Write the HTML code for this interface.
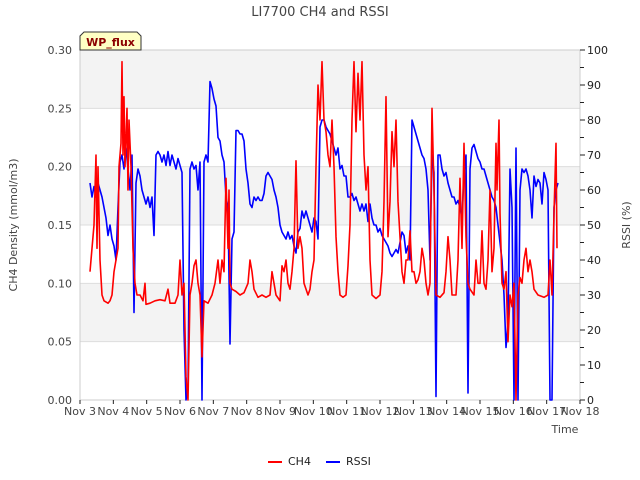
<!DOCTYPE html>
<html><head><meta charset="utf-8"><style>
body{margin:0;background:#fff}
svg{display:block;font-family:"DejaVu Sans","Liberation Sans",sans-serif}
</style></head><body>
<svg id="c" width="640" height="480" viewBox="0 0 640 480">
<text x="320" y="16" text-anchor="middle" font-size="13" fill="#444">LI7700 CH4 and RSSI</text>
<g id="bands"></g>
<g id="grid"></g>
<rect x="80" y="50" width="500" height="350" fill="none" stroke="#ccc"/>
<g id="axes"></g>
<g id="series"></g>
<text x="565" y="433" text-anchor="middle" font-size="11" fill="#444">Time</text>
<text transform="translate(17,225) rotate(-90)" text-anchor="middle" font-size="11" fill="#444">CH4 Density (mmol/m3)</text>
<text transform="translate(630,225) rotate(-90)" text-anchor="middle" font-size="11" fill="#444">RSSI (%)</text>
<g>
<path d="M80,50 L80,36 L84,32 L137,32 L141,36 L141,50 Z" fill="#ffffc4" stroke="#333"/>
<text x="110.5" y="46" text-anchor="middle" font-size="11" font-weight="bold" fill="#8b0000">WP_flux</text>
</g>
<g>
<line x1="268" y1="462" x2="282" y2="462" stroke="#f00" stroke-width="2"/>
<text x="288" y="465" font-size="11" fill="#222">CH4</text>
<line x1="326" y1="462" x2="340" y2="462" stroke="#00f" stroke-width="2"/>
<text x="346" y="465" font-size="11" fill="#222">RSSI</text>
</g>
</svg>
<script>
const xTickLabels=["Nov 3","Nov 4","Nov 5","Nov 6","Nov 7","Nov 8","Nov 9","Nov 10","Nov 11","Nov 12","Nov 13","Nov 14","Nov 15","Nov 16","Nov 17","Nov 18"];
const yTicks=[0,0.05,0.10,0.15,0.20,0.25,0.30];
const y2Ticks=[0,10,20,30,40,50,60,70,80,90,100];
const ch4Days=[0.30,0.36,0.42,0.48,0.51,0.54,0.60,0.66,0.72,0.84,0.90,0.96,1.02,1.08,1.14,1.17,1.23,1.26,1.29,1.32,1.35,1.41,1.44,1.47,1.53,1.59,1.65,1.71,1.80,1.89,1.95,1.98,2.10,2.25,2.40,2.55,2.64,2.70,2.85,2.94,3.00,3.06,3.12,3.18,3.24,3.30,3.36,3.42,3.48,3.54,3.60,3.66,3.72,3.84,3.96,4.05,4.14,4.20,4.26,4.32,4.38,4.44,4.47,4.50,4.56,4.68,4.80,4.92,5.04,5.10,5.16,5.22,5.34,5.46,5.58,5.70,5.76,5.82,5.88,6.00,6.06,6.12,6.18,6.24,6.30,6.36,6.42,6.48,6.54,6.60,6.66,6.72,6.84,6.90,6.96,7.02,7.08,7.14,7.20,7.26,7.32,7.38,7.44,7.50,7.56,7.62,7.68,7.74,7.80,7.89,7.98,8.04,8.10,8.16,8.22,8.28,8.34,8.40,8.46,8.52,8.58,8.64,8.70,8.76,8.88,9.00,9.06,9.12,9.18,9.24,9.30,9.36,9.42,9.48,9.54,9.60,9.66,9.72,9.78,9.84,9.90,9.96,10.02,10.08,10.14,10.20,10.26,10.32,10.38,10.44,10.50,10.56,10.62,10.68,10.80,10.92,10.98,11.04,11.10,11.16,11.28,11.34,11.40,11.46,11.52,11.58,11.64,11.70,11.82,11.88,11.94,12.00,12.06,12.12,12.18,12.24,12.30,12.36,12.42,12.48,12.51,12.57,12.60,12.66,12.72,12.78,12.84,12.90,12.96,13.02,13.08,13.14,13.20,13.26,13.32,13.38,13.44,13.50,13.56,13.62,13.74,13.92,14.04,14.10,14.16,14.22,14.28,14.31];
const ch4Values=[.11,.13,.15,.21,.13,.20,.12,.09,.085,.083,.085,.09,.11,.12,.13,.20,.22,.29,.21,.26,.20,.25,.18,.24,.20,.13,.10,.09,.09,.085,.10,.082,.083,.085,.086,.085,.095,.083,.083,.09,.12,.09,.10,.02,.00,.09,.10,.115,.12,.10,.09,.037,.085,.083,.09,.10,.12,.10,.12,.11,.19,.13,.18,.10,.095,.093,.09,.092,.10,.12,.11,.095,.088,.09,.088,.09,.11,.10,.09,.085,.115,.11,.12,.10,.095,.11,.13,.205,.13,.14,.13,.10,.09,.095,.11,.12,.20,.27,.24,.29,.24,.23,.21,.20,.24,.20,.14,.11,.09,.088,.09,.115,.15,.24,.29,.23,.28,.24,.29,.21,.18,.20,.12,.09,.087,.09,.11,.17,.26,.14,.17,.23,.20,.24,.17,.14,.11,.10,.12,.12,.145,.11,.11,.10,.103,.11,.13,.12,.10,.09,.10,.25,.18,.09,.088,.092,.11,.14,.12,.09,.09,.12,.19,.13,.22,.14,.10,.095,.09,.12,.10,.10,.145,.10,.095,.12,.18,.11,.13,.22,.18,.24,.16,.10,.095,.11,.05,.09,.08,.10,.0,.09,.105,.10,.12,.13,.11,.12,.11,.095,.09,.088,.09,.12,.09,.16,.22,.13];
const rssiStartDay=0.30;
const rssiStepDay=0.06;
const rssiValues=[62,58,61,58,62,60,58,55,52,47,50,46,44,40,55,68,70,66,72,66,60,70,25,62,66,64,60,58,56,58,55,58,47,70,71,70,68,70,67,71,67,70,68,66,69,67,65,20,0,3,66,68,66,67,60,68,0,68,70,68,91,89,86,84,75,74,70,68,58,55,16,46,48,77,77,76,76,74,66,62,56,55,58,57,58,57,57,59,64,65,64,63,60,58,55,50,48,47,46,48,46,47,44,42,48,49,54,52,54,52,50,48,52,51,46,78,80,80,78,77,76,74,72,70,72,66,67,64,64,58,58,59,57,58,56,54,56,54,56,51,56,52,50,50,48,49,47,46,45,44,42,41,42,43,42,45,48,47,42,44,40,80,78,76,74,72,70,69,66,60,40,70,65,1,70,70,66,64,65,62,60,58,58,56,57,55,52,65,70,2,66,72,73,71,69,68,66,66,64,62,60,58,57,55,50,45,40,30,15,22,66,55,0,72,0,60,66,65,66,64,60,52,64,61,63,62,56,65,63,60,0,0,55,60,62];

const NS="http://www.w3.org/2000/svg";
const L=80,R=580,T=50,B=400;
const xs=d=>L+d*(R-L)/15;
const ys=v=>B-v/0.30*(B-T);
const y2s=v=>B-v/100*(B-T);
function mk(tag,attrs,parent){const e=document.createElementNS(NS,tag);for(const k in attrs)e.setAttribute(k,attrs[k]);parent.appendChild(e);return e;}
const bands=document.getElementById('bands'),grid=document.getElementById('grid'),axes=document.getElementById('axes'),ser=document.getElementById('series');
for(let i=0;i<yTicks.length-1;i++){
  if(i%2===1){const r=mk('rect',{x:L,y:ys(yTicks[i+1]),width:R-L,height:ys(yTicks[i])-ys(yTicks[i+1]),fill:'#f3f3f3'},bands);
  
  }
}
yTicks.forEach(v=>{
  const g=mk('line',{x1:L,x2:R,y1:ys(v),y2:ys(v),stroke:'#ddd'},grid);
  
  
  const t=mk('text',{x:72,y:ys(v)+4,'text-anchor':'end','font-size':11,fill:'#444'},axes);
  t.textContent=v.toFixed(2);
  
  
});
y2Ticks.forEach(v=>{
  const tk=mk('line',{x1:R,x2:R+5,y1:y2s(v),y2:y2s(v),stroke:'#222'},axes);
  
  
  if(v<100){const m=mk('line',{x1:R,x2:R+4,y1:y2s(v+5),y2:y2s(v+5),stroke:'#222'},axes);
  
  }
  const t=mk('text',{x:587,y:y2s(v)+4,'font-size':11,fill:'#222'},axes);
  t.textContent=v;
  
  
});
xTickLabels.forEach((s,i)=>{
  const tk=mk('line',{x1:xs(i),x2:xs(i),y1:B,y2:B+4,stroke:'#222'},axes);
  
  
  const t=mk('text',{x:xs(i),y:415,'text-anchor':'middle','font-size':11,fill:'#444'},axes);
  t.textContent=s;
  
  
});
let d1=ch4Values.map((v,i)=>(i?'L':'M')+xs(ch4Days[i]).toFixed(1)+','+ys(v).toFixed(1)).join('');
let d2=rssiValues.map((v,i)=>(i?'L':'M')+xs(rssiStartDay+i*rssiStepDay).toFixed(1)+','+y2s(v).toFixed(1)).join('');
const p2=mk('path',{d:d2,fill:'none',stroke:'#00f','stroke-width':1.6,'stroke-linejoin':'round'},ser);


const p1=mk('path',{d:d1,fill:'none',stroke:'#f00','stroke-width':1.6,'stroke-linejoin':'round'},ser);


</script>
</body></html>
